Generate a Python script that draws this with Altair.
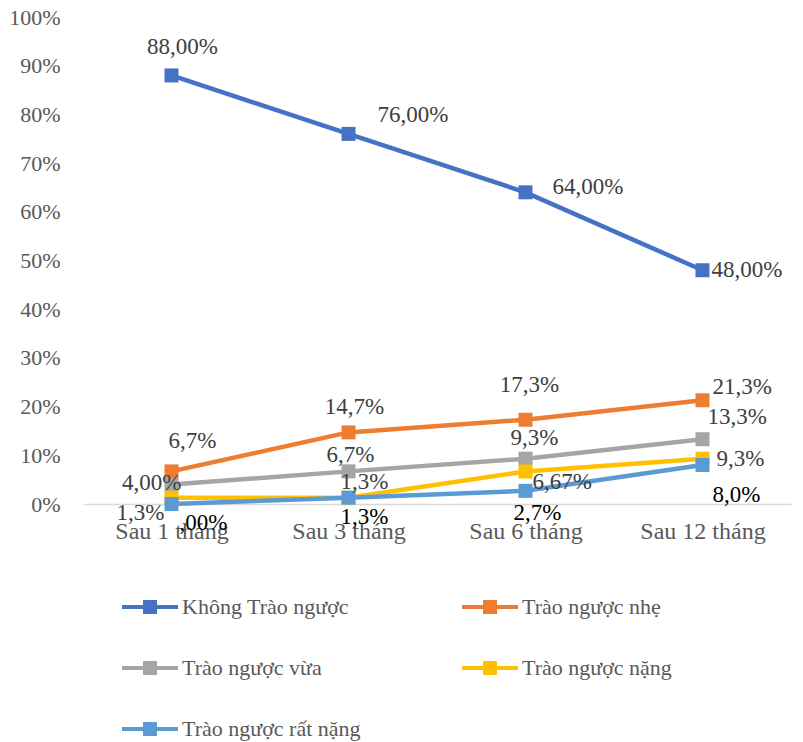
import altair as alt
import pandas as pd

months = ["Sau 1 tháng", "Sau 3 tháng", "Sau 6 tháng", "Sau 12 tháng"]
series = ["Không Trào ngược", "Trào ngược nhẹ", "Trào ngược vừa",
          "Trào ngược nặng", "Trào ngược rất nặng"]

khong = [88.0, 76.0, 64.0, 48.0]
nhe = [6.7, 14.7, 17.3, 21.3]
vua = [4.0, 6.7, 9.3, 13.3]
nang = [1.3, 1.3, 6.67, 9.3]
rat_nang = [0.0, 1.3, 2.7, 8.0]

label_khong = ["88,00%", "76,00%", "64,00%", "48,00%"]
label_nhe = ["6,7%", "14,7%", "17,3%", "21,3%"]
label_vua = ["4,00%", "6,7%", "9,3%", "13,3%"]
label_nang = ["1,3%", "1,3%", "6,67%", "9,3%"]
label_rat_nang = [",00%", "1,3%", "2,7%", "8,0%"]

colors = ["#4472C4", "#ED7D31", "#A5A5A5", "#FFC000", "#5B9BD5"]

values = [khong, nhe, vua, nang, rat_nang]
labels = [label_khong, label_nhe, label_vua, label_nang, label_rat_nang]

rows = []
for s, vals, labs in zip(series, values, labels):
    for m, v, l in zip(months, vals, labs):
        rows.append({"series": s, "month": m, "value": v / 100.0, "label": l})
df = pd.DataFrame(rows)

FONT = "Liberation Serif"

# label placement (align, dx, dy) per series / month
placement = {
    0: [("center", 11, -28), ("left", 29, -19), ("left", 27, -5), ("left", 9, 0)],
    1: [("center", 21, -30), ("center", 6, -25), ("center", 4, -35), ("left", 10, -13)],
    2: [("right", 10, -2), ("center", 2, -16), ("center", 9, -21), ("left", 5, -22)],
    3: [("right", -7, 15), ("center", 16, -16), ("left", 7, 10), ("left", 14, 0)],
    4: [("left", 8, 19), ("center", 16, 19), ("center", 12, 22), ("left", 10, 30)],
}

x_enc = alt.X(
    "month:N", sort=months,
    scale=alt.Scale(type="point", padding=0.5),
    axis=alt.Axis(title=None, labelAngle=0, ticks=False, tickSize=0,
                  domainColor="#D9D9D9", domainWidth=1.5, grid=False,
                  labelFont=FONT, labelFontSize=24, labelColor="#595959",
                  labelPadding=15),
)
y_enc = alt.Y(
    "value:Q",
    scale=alt.Scale(domain=[0, 1], nice=False, zero=True),
    axis=alt.Axis(title=None, format=".0%", values=[i / 10 for i in range(11)],
                  domain=False, ticks=False, grid=False,
                  labelFont=FONT, labelFontSize=22, labelColor="#595959",
                  labelPadding=23),
)

base = alt.Chart(df)

lines = base.mark_line(strokeWidth=4.5).encode(
    x=x_enc, y=y_enc,
    color=alt.Color("series:N", scale=alt.Scale(domain=series, range=colors),
                    legend=None),
)

legend_path = ("M-1,-0.075H1V0.075H-1Z "
               "M-0.25,-0.25H0.25V0.25H-0.25Z")

points = base.mark_square(size=196, opacity=1, filled=True).encode(
    x=x_enc, y=y_enc,
    color=alt.Color(
        "series:N", scale=alt.Scale(domain=series, range=colors),
        legend=alt.Legend(
            title=None, orient="none", legendX=39, legendY=562,
            columns=2, direction="horizontal",
            symbolType=legend_path, symbolSize=3136, symbolStrokeWidth=0,
            labelFont=FONT, labelFontSize=22, labelColor="#595959",
            labelOffset=4, columnPadding=101, rowPadding=22, padding=0,
            labelLimit=400,
        ),
    ),
)

text_layers = []
for si, s in enumerate(series):
    for mi, m in enumerate(months):
        align, dx, dy = placement[si][mi]
        col = "#000000" if si == 4 else "#404040"
        text_layers.append(
            base.transform_filter(
                (alt.datum.series == s) & (alt.datum.month == m)
            ).mark_text(
                align=align, baseline="middle", dx=dx, dy=dy,
                font=FONT, fontSize=23, color=col,
            ).encode(x=x_enc, y=y_enc, text="label:N")
        )

chart = alt.layer(lines, points, *text_layers).resolve_scale(
    color="independent"
).resolve_legend(color="independent").properties(
    width=708, height=487,
    padding={"left": 83, "top": 17, "right": 12, "bottom": 238},
    autosize=alt.AutoSizeParams(type="none"),
).configure(background="white").configure_view(stroke=None)

chart.save("out.html", embed_options={"renderer": "svg", "actions": False})
